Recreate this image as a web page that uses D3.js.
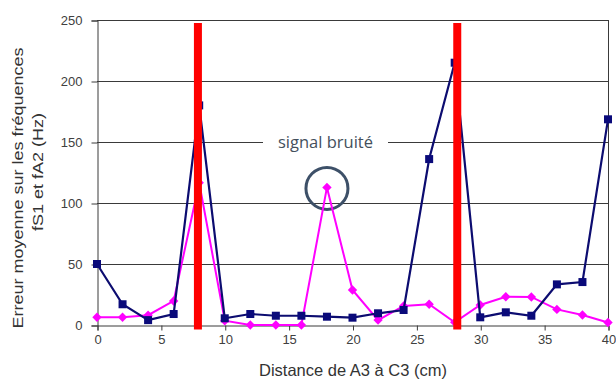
<!DOCTYPE html>
<html>
<head>
<meta charset="utf-8">
<script src="https://cdn.jsdelivr.net/npm/d3@7"></script>
<style>
  body { margin: 0; background: #fff; }
  text { font-family: "Liberation Sans", Arial, sans-serif; }
</style>
</head>
<body>
<div id="chart"></div>
<script>
// distances (cm) along A3 -> C3
const distances = [0, 2, 4, 6, 8, 10, 12, 14, 16, 18, 20, 22, 24, 26, 28, 30, 32, 34, 36, 38, 40];
// mean error, navy series (squares)
const errNavy = [50, 17, 4, 9, 180, 5.5, 9, 7.6, 7.6, 6.8, 6, 9.6, 12.3, 136, 215, 6.3, 10.4, 7.6, 33.3, 35.2, 168.6];
// mean error, pink series (diamonds)
const errPink = [6.3, 6.3, 8, 19.7, 116.6, 3.5, 0, 0, 0, 112.8, 28.7, 4, 15.6, 17, 2.2, 16.4, 23.2, 23, 12.8, 8.2, 2];

const xTicks = [0, 5, 10, 15, 20, 25, 30, 35, 40];
const yTicks = [0, 50, 100, 150, 200, 250];
// red vertical markers
const cutPositions = [7.9, 28.2];
const noisyAt = 18;
const noisyLabel = 'signal bruité';

const width = 616, height = 379;

const svg = d3.select('#chart')
    .append('svg')
    .attr('width', width)
    .attr('height', height);

const x = d3.scaleLinear().domain([0, 40]).range([97, 608]);
const y = d3.scaleLinear().domain([0, 250]).range([325, 20]);

// Gridlines
svg.append('g')
    .selectAll('line')
    .data(yTicks.filter(d => d > 0))
    .enter()
    .append('line')
    .attr('x1', x(0))
    .attr('x2', x(40))
    .attr('y1', d => Math.round(y(d)) + 0.5)
    .attr('y2', d => Math.round(y(d)) + 0.5)
    .attr('stroke', '#3a3a3a')
    .attr('stroke-width', 1);

// right border
svg.append('line')
    .attr('x1', Math.round(x(40)) + 0.5)
    .attr('x2', Math.round(x(40)) + 0.5)
    .attr('y1', y(250))
    .attr('y2', y(0))
    .attr('stroke', '#3a3a3a');

// Axes
const yAxis = d3.axisLeft(y).tickValues(yTicks).tickSize(6).tickPadding(9);
const gy = svg.append('g')
    .attr('transform', `translate(${Math.round(x(0)) + 0.5},0.5)`)
    .call(yAxis);

const xAxis = d3.axisBottom(x).tickValues(xTicks).tickSize(5).tickPadding(4);
const gx = svg.append('g')
    .attr('transform', `translate(0.5,${Math.round(y(0)) + 0.5})`)
    .call(xAxis);

[gx, gy].forEach(g => {
    g.selectAll('path, line').attr('stroke', '#3a3a3a');
    g.selectAll('text')
        .attr('fill', '#404040')
        .style('font-size', '13px')
        .style('font-family', '"Liberation Sans", Arial, sans-serif');
});

// Annotation box over the 150 gridline
const noisyX = x(noisyAt);
const noisyY = y(errPink[distances.indexOf(noisyAt)]);

svg.append('rect')
    .attr('x', 263)
    .attr('y', y(150) - 9)
    .attr('width', 125)
    .attr('height', 18)
    .attr('fill', '#fff');

svg.append('text')
    .attr('x', (263 + 388) / 2)
    .attr('y', y(150) + 5.5)
    .attr('text-anchor', 'middle')
    .attr('fill', '#444f5c')
    .style('font-family', '"Open Sans", "Noto Sans", sans-serif')
    .style('font-size', '15.5px')
    .attr('textLength', 95)
    .attr('lengthAdjust', 'spacingAndGlyphs')
    .text(noisyLabel);

svg.append('circle')
    .attr('cx', noisyX)
    .attr('cy', noisyY + 1)
    .attr('r', 21)
    .attr('fill', 'none')
    .attr('stroke', '#3d5068')
    .attr('stroke-width', 3);

// Lines
const line = vals => d3.line()
    .x((d, i) => x(distances[i]))
    .y(d => y(d))(vals);

svg.append('path')
    .attr('d', line(errPink))
    .attr('fill', 'none')
    .attr('stroke', '#ff00ff')
    .attr('stroke-width', 2);

// diamonds: squares turned 45 degrees
svg.append('g')
    .selectAll('path')
    .data(errPink)
    .enter()
    .append('path')
    .attr('d', d3.symbol(d3.symbolSquare, 44)())
    .attr('transform', (d, i) => `translate(${x(distances[i])},${y(d)}) rotate(45)`)
    .attr('fill', '#ff00ff');

svg.append('path')
    .attr('d', line(errNavy))
    .attr('fill', 'none')
    .attr('stroke', '#0c0c70')
    .attr('stroke-width', 2.2);

svg.append('g')
    .selectAll('rect')
    .data(errNavy)
    .enter()
    .append('rect')
    .attr('x', (d, i) => x(distances[i]) - 4)
    .attr('y', d => y(d) - 4)
    .attr('width', 8)
    .attr('height', 8)
    .attr('fill', '#0a0a7a');

// Red vertical markers
svg.append('g')
    .selectAll('rect')
    .data(cutPositions)
    .enter()
    .append('rect')
    .attr('x', d => x(d) - 4)
    .attr('y', 23)
    .attr('width', 8)
    .attr('height', 306.5)
    .attr('fill', '#ff0000');

// Axis titles
svg.append('text')
    .attr('x', 353)
    .attr('y', 376)
    .attr('text-anchor', 'middle')
    .attr('fill', '#333')
    .style('font-size', '16.5px')
    .text('Distance de A3 à C3 (cm)');

[['Erreur moyenne sur les fréquences', 23, 188], ['fS1 et fA2 (Hz)', 43, 172]].forEach(([t, cx, cy]) => {
    svg.append('text')
        .attr('transform', `translate(${cx},${cy}) rotate(-90) scale(1.2,1)`)
        .attr('text-anchor', 'middle')
        .attr('fill', '#333')
        .style('font-size', '15px')
        .text(t);
});
</script>
</body>
</html>
